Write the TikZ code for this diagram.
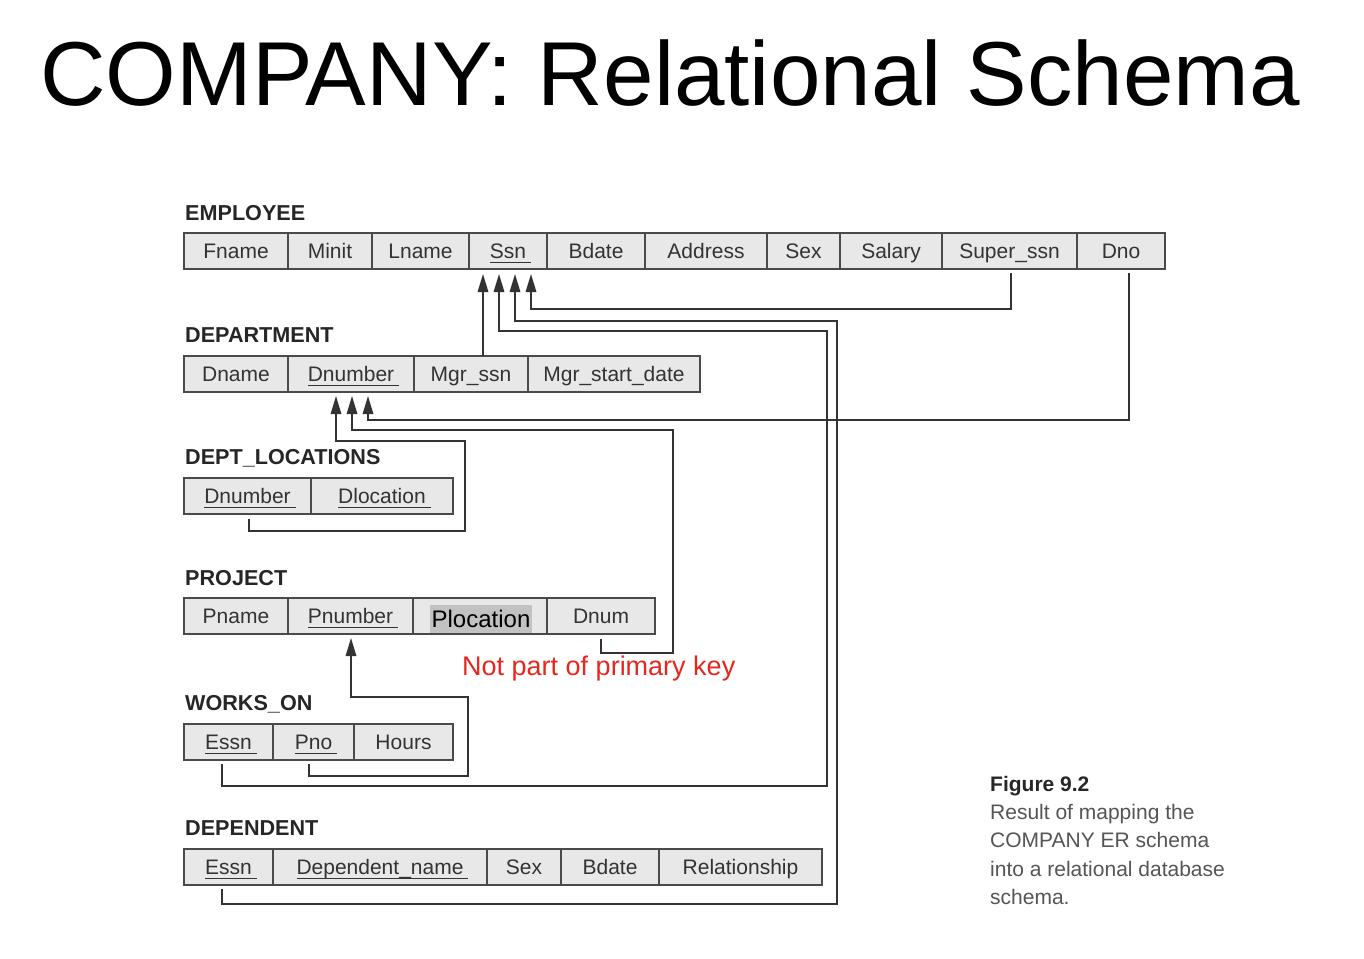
\documentclass[tikz,border=0pt]{standalone}
\usepackage{fontspec}
\setmainfont{Liberation Sans}
\usetikzlibrary{arrows.meta,calc}
\definecolor{cellfill}{HTML}{E8E8E8}
\definecolor{celldraw}{HTML}{4A4A4A}
\definecolor{celltext}{HTML}{333333}
\definecolor{linec}{HTML}{333333}
\definecolor{hl}{HTML}{C2C2C2}
\definecolor{notered}{RGB}{232,38,30}
\definecolor{capgray}{HTML}{555555}
\definecolor{labtext}{HTML}{262626}
\newsavebox\ulbox
\newcommand\keyu[1]{\sbox\ulbox{#1}\rlap{\rule[-4.5pt]{\dimexpr\wd\ulbox+5pt\relax}{1.2pt}}\usebox\ulbox}
\newcommand\cellbox[6]{\node[cell, minimum width={(#3-#2)*1pt}, minimum height={(#5-#4)*1pt}] (#1) at ({(#2+#3)/2},{(#4+#5)/2}) {#6};}
\begin{document}
\begin{tikzpicture}[x=1pt, y=-1pt,
  cell/.style={draw=celldraw, fill=cellfill, line width=1.3pt, inner sep=0pt, outer sep=0pt,
    text=celltext, font=\fontsize{21}{21}\selectfont, text height=15pt, text depth=0pt},
  fk/.style={draw=linec, line width=1.6pt, -{Triangle[length=18pt,width=10.5pt]}},
  rel/.style={anchor=base west, inner sep=0pt, font=\bfseries\fontsize{21.6}{21.6}\selectfont, text=labtext},
  captext/.style={anchor=base west, inner sep=0pt, font=\fontsize{21}{21}\selectfont, text=capgray}]
\fill[white] (0,0) rectangle (1364,958);
\useasboundingbox (0,0) rectangle (1364,958);

% Title
\node[anchor=base west, inner sep=0pt, font=\fontsize{90.8}{90.8}\selectfont] (title) at (40,105) {COMPANY: Relational Schema};

% EMPLOYEE
\node[rel] (lab-emp) at (185,220) {EMPLOYEE};
\cellbox{e-fname}{184}{288}{233}{269}{Fname}
\cellbox{e-minit}{288}{372}{233}{269}{Minit}
\cellbox{e-lname}{372}{469}{233}{269}{Lname}
\cellbox{e-ssn}{469}{547}{233}{269}{\keyu{Ssn}}
\cellbox{e-bdate}{547}{645}{233}{269}{Bdate}
\cellbox{e-address}{645}{767}{233}{269}{Address}
\cellbox{e-sex}{767}{840}{233}{269}{Sex}
\cellbox{e-salary}{840}{942}{233}{269}{Salary}
\cellbox{e-superssn}{942}{1077}{233}{269}{Super\_ssn}
\cellbox{e-dno}{1077}{1165}{233}{269}{Dno}

% DEPARTMENT
\node[rel] (lab-dept) at (185,342) {DEPARTMENT};
\cellbox{d-dname}{184}{288}{356}{392}{Dname}
\cellbox{d-dnumber}{288}{414}{356}{392}{\keyu{Dnumber}}
\cellbox{d-mgrssn}{414}{528}{356}{392}{Mgr\_ssn}
\cellbox{d-mgrstart}{528}{700}{356}{392}{Mgr\_start\_date}

% DEPT_LOCATIONS
\node[rel] (lab-dl) at (185,464) {DEPT\_LOCATIONS};
\cellbox{dl-dnumber}{184}{311}{478}{514}{\keyu{Dnumber}}
\cellbox{dl-dlocation}{311}{453}{478}{514}{\keyu{Dlocation}}

% PROJECT
\node[rel] (lab-proj) at (185,585) {PROJECT};
\cellbox{p-pname}{184}{288}{598}{634}{Pname}
\cellbox{p-pnumber}{288}{413}{598}{634}{\keyu{Pnumber}}
\cellbox{p-plocation}{413}{547}{598}{634}{}
\cellbox{p-dnum}{547}{655}{598}{634}{Dnum}
\node[fill=hl, inner sep=0pt, minimum width=102pt, minimum height=28pt, text height=17pt, text depth=0pt,
  font=\fontsize{24}{24}\selectfont, text=black] (p-ploc-text) at (481,619) {Plocation};

% Note
\node[anchor=base west, inner sep=0pt, font=\fontsize{27}{27}\selectfont, text=notered] (note) at (462,675) {Not part of primary key};

% WORKS_ON
\node[rel] (lab-wo) at (185,710) {WORKS\_ON};
\cellbox{wo-essn}{184}{273}{724}{760}{\keyu{Essn}}
\cellbox{wo-pno}{273}{354}{724}{760}{\keyu{Pno}}
\cellbox{wo-hours}{354}{453}{724}{760}{Hours}

% DEPENDENT
\node[rel] (lab-dep) at (185,835) {DEPENDENT};
\cellbox{dep-essn}{184}{273}{849}{885}{\keyu{Essn}}
\cellbox{dep-dname}{273}{487}{849}{885}{\keyu{Dependent\_name}}
\cellbox{dep-sex}{487}{561}{849}{885}{Sex}
\cellbox{dep-bdate}{561}{659}{849}{885}{Bdate}
\cellbox{dep-rel}{659}{822}{849}{885}{Relationship}

% Foreign keys to EMPLOYEE.Ssn
\draw[fk] ($(e-superssn.south west)+(69,4)$) |- ($(e-ssn.south west)+(62,40)$) -- ($(e-ssn.south west)+(62,5)$);
\draw[fk] ($(dep-essn.south west)+(38,4)$) -- ++(0,15) -| (837,321) -| ($(e-ssn.south west)+(46,5)$);
\draw[fk] ($(wo-essn.south west)+(38,4)$) -- ++(0,22) -| (827,331) -| ($(e-ssn.south west)+(30,5)$);
\draw[fk] ($(d-mgrssn.north west)+(69,0)$) -- ($(e-ssn.south west)+(14,5)$);

% Foreign keys to DEPARTMENT.Dnumber
\draw[fk] ($(e-dno.south west)+(52,4)$) |- ($(d-dnumber.south west)+(80,28)$) -- ($(d-dnumber.south west)+(80,4)$);
\draw[fk] ($(p-dnum.south west)+(54,5)$) -- ++(0,14) -| (673,430) -| ($(d-dnumber.south west)+(64,4)$);
\draw[fk] ($(dl-dnumber.south west)+(65,5)$) -- ++(0,12) -| (465,441) -| ($(d-dnumber.south west)+(48,4)$);

% Foreign key to PROJECT.Pnumber
\draw[fk] ($(wo-pno.south west)+(36,4)$) -- ++(0,12) -| (468,697) -| ($(p-pnumber.south west)+(63,4)$);

% Caption
\node[captext, font=\bfseries\fontsize{21}{21}\selectfont, text=labtext] (cap1) at (990,791) {Figure 9.2};
\node[captext] (cap2) at (990,819) {Result of mapping the};
\node[captext] (cap3) at (990,847) {COMPANY ER schema};
\node[captext] (cap4) at (990,876) {into a relational database};
\node[captext] (cap5) at (990,904) {schema.};
\end{tikzpicture}
\end{document}
